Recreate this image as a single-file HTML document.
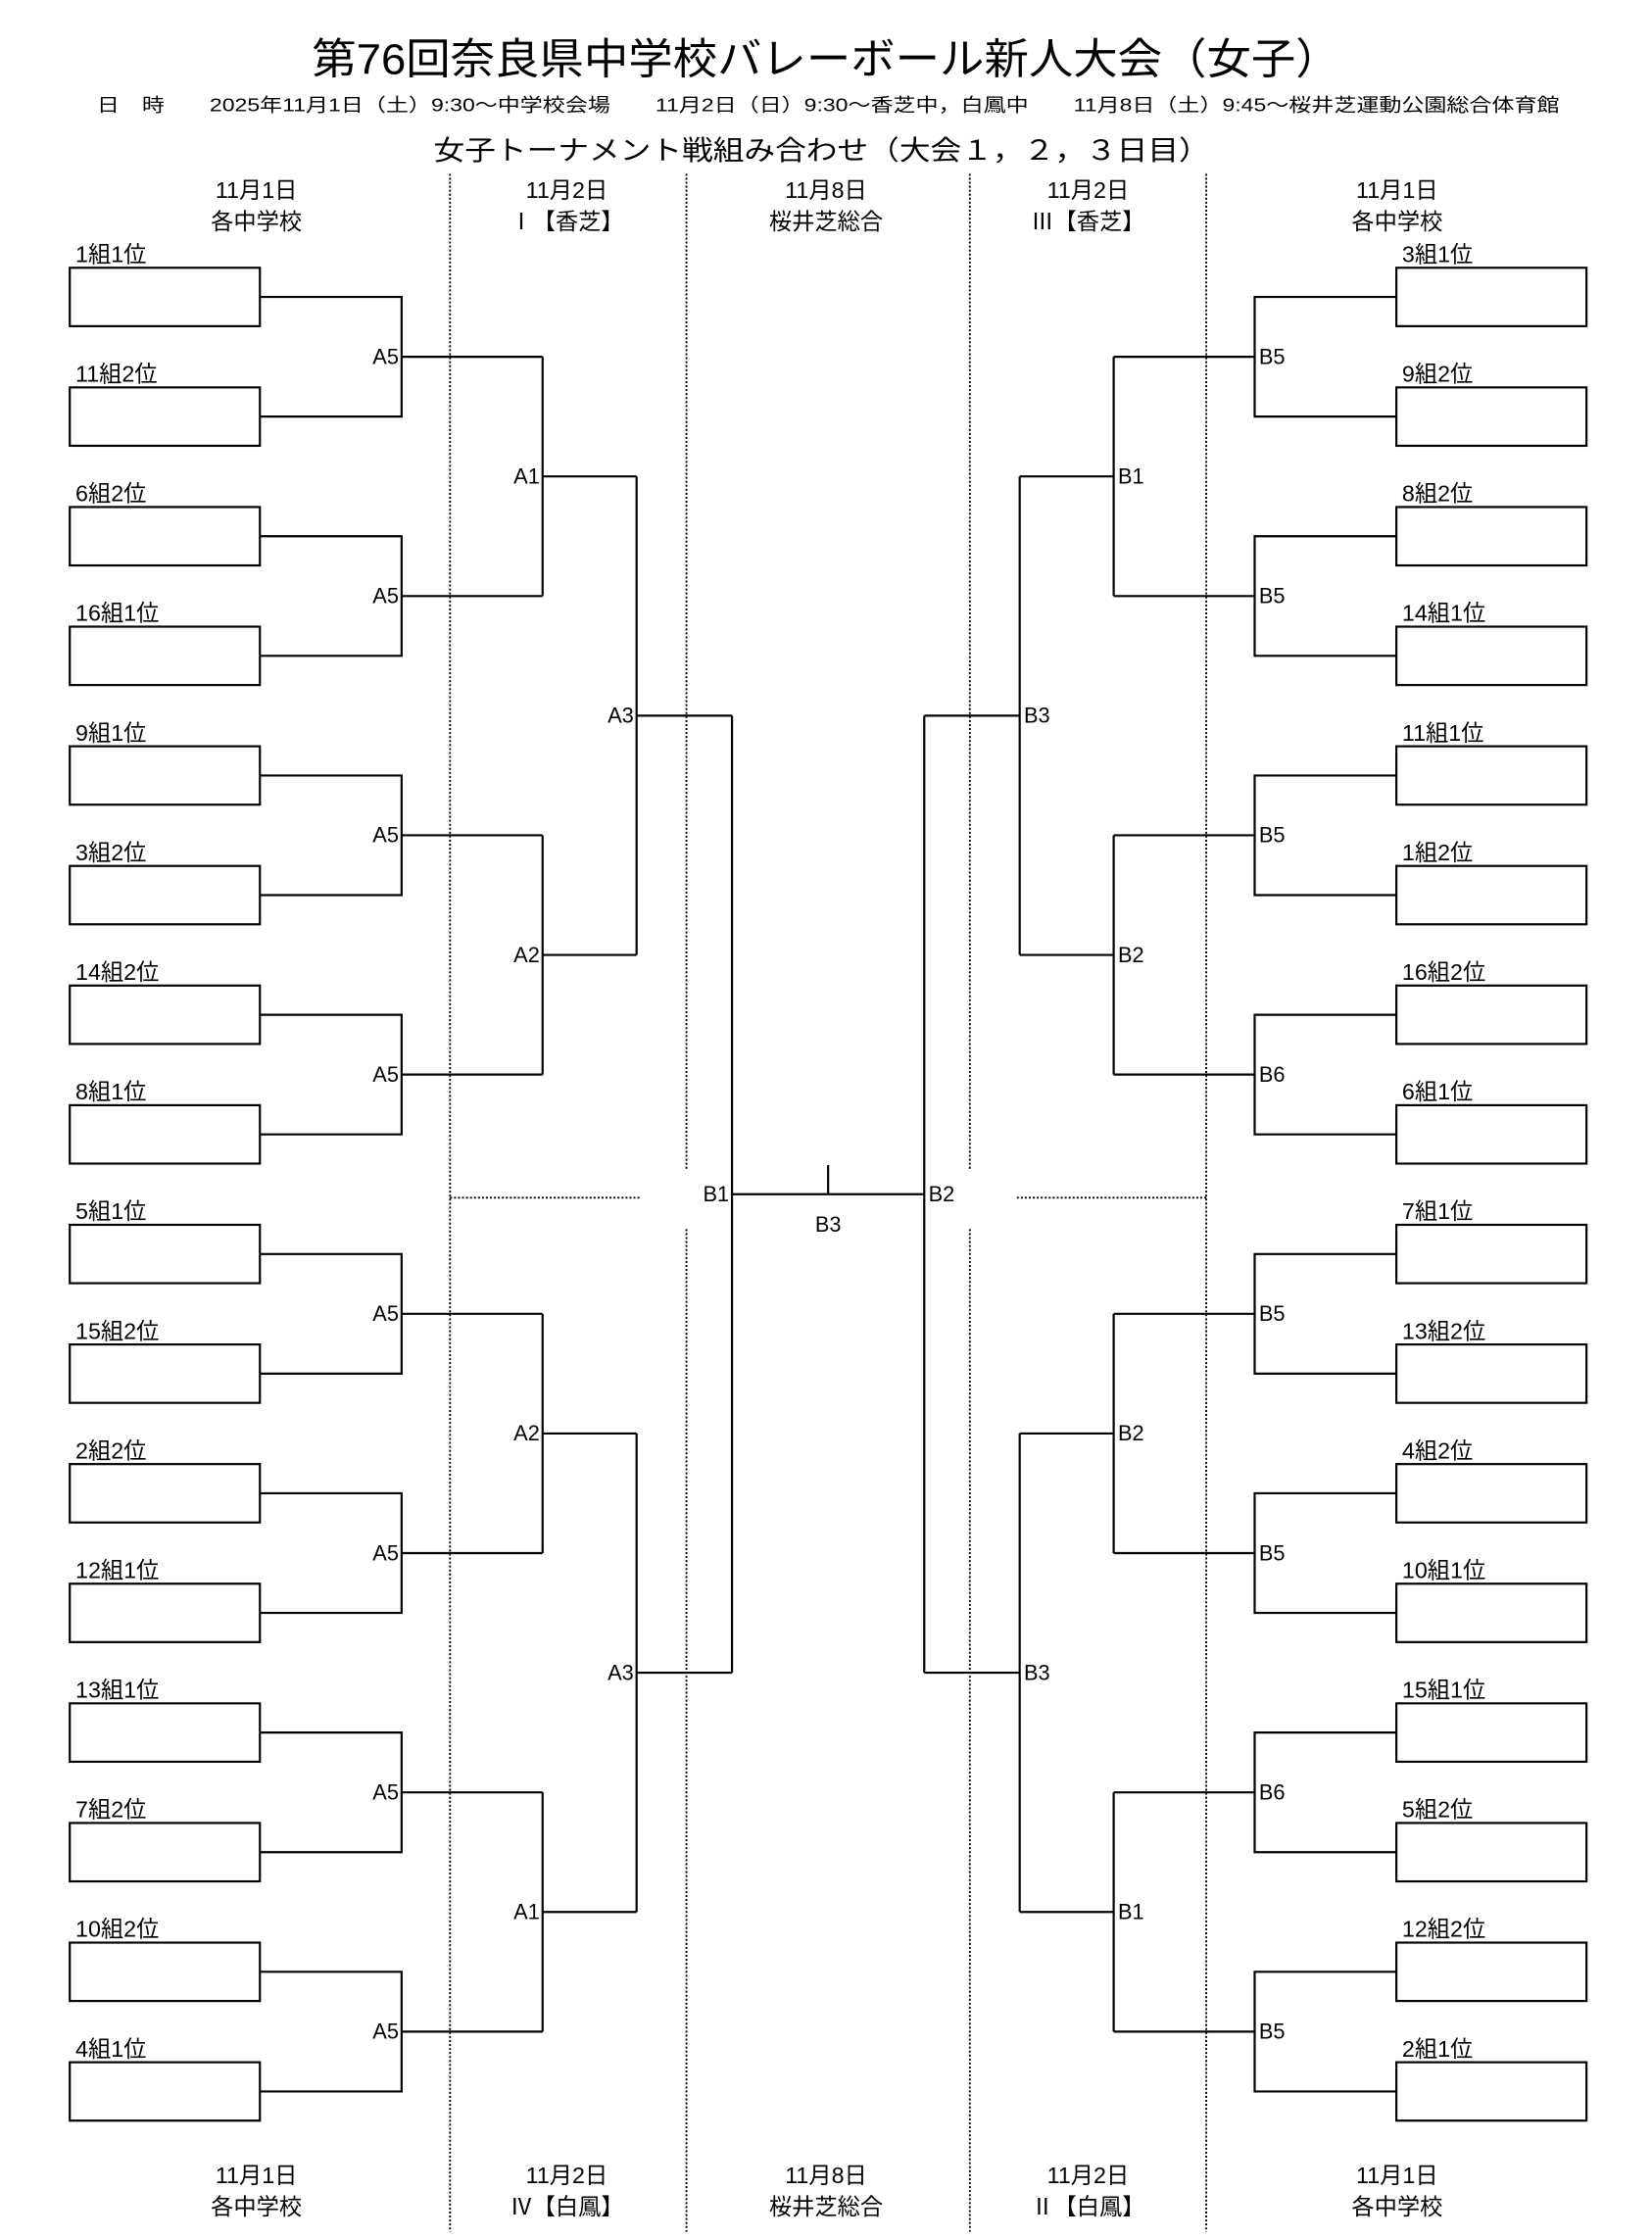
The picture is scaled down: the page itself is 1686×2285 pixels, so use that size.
<!DOCTYPE html>
<html><head><meta charset="utf-8"><style>
html,body{margin:0;padding:0;background:#fff}
svg{display:block}
text{font-family:"Liberation Sans","Noto Sans CJK JP",sans-serif;fill:#000}
</style></head><body>
<svg width="1686" height="2285" viewBox="0 0 1160 1572.1" xmlns="http://www.w3.org/2000/svg">
<text x="580" y="52" font-size="30" text-anchor="middle" textLength="722" lengthAdjust="spacingAndGlyphs">第76回奈良県中学校バレーボール新人大会（女子）</text>
<text x="68" y="78" font-size="13" textLength="1027" lengthAdjust="spacingAndGlyphs">日　時　　2025年11月1日（土）9:30～中学校会場　　11月2日（日）9:30～香芝中，白鳳中　　11月8日（土）9:45～桜井芝運動公園総合体育館</text>
<text x="577" y="112" font-size="19" text-anchor="middle" textLength="545" lengthAdjust="spacingAndGlyphs">女子トーナメント戦組み合わせ（大会１，２，３日目）</text>
<g font-size="16" text-anchor="middle">
<text x="180" y="139">11月1日</text><text x="180" y="161">各中学校</text>
<text x="398" y="139">11月2日</text><text x="398" y="161">Ⅰ【香芝】</text>
<text x="580" y="139">11月8日</text><text x="580" y="161">桜井芝総合</text>
<text x="764" y="139">11月2日</text><text x="764" y="161">Ⅲ【香芝】</text>
<text x="981" y="139">11月1日</text><text x="981" y="161">各中学校</text>
<text x="180" y="1533">11月1日</text><text x="180" y="1555">各中学校</text>
<text x="398" y="1533">11月2日</text><text x="398" y="1555">Ⅳ【白鳳】</text>
<text x="580" y="1533">11月8日</text><text x="580" y="1555">桜井芝総合</text>
<text x="764" y="1533">11月2日</text><text x="764" y="1555">Ⅱ【白鳳】</text>
<text x="981" y="1533">11月1日</text><text x="981" y="1555">各中学校</text>
</g>
<g stroke="#000" stroke-width="1.3" stroke-dasharray="1.4 1.4" fill="none">
<path d="M316 122V1567M847 122V1567M482 122V821M482 863V1567M681 122V821M681 863V1567M316 841H449M714 841H847"/>
</g>
<g id="L" stroke="#000" stroke-width="1.5" fill="none"></g>
<g id="T" font-size="15"></g>
<script>
var ns="http://www.w3.org/2000/svg",L=document.getElementById('L'),T=document.getElementById('T');
function p(d){var e=document.createElementNS(ns,'path');e.setAttribute('d',d);L.appendChild(e);}
function r(x,y,w,h){var e=document.createElementNS(ns,'rect');e.setAttribute('x',x);e.setAttribute('y',y);e.setAttribute('width',w);e.setAttribute('height',h);L.appendChild(e);}
function t(x,y,s,a,fs){var e=document.createElementNS(ns,'text');e.setAttribute('x',x);e.setAttribute('y',y);if(a)e.setAttribute('text-anchor',a);if(fs)e.setAttribute('font-size',fs);e.textContent=s;T.appendChild(e);}
var LN=["1組1位","11組2位","6組2位","16組1位","9組1位","3組2位","14組2位","8組1位","5組1位","15組2位","2組2位","12組1位","13組1位","7組2位","10組2位","4組1位"];
var RN=["3組1位","9組2位","8組2位","14組1位","11組1位","1組2位","16組2位","6組1位","7組1位","13組2位","4組2位","10組1位","15組1位","5組2位","12組2位","2組1位"];
var LR1=["A5","A5","A5","A5","A5","A5","A5","A5"],LR2=["A1","A2","A2","A1"],LR3=["A3","A3"];
var RR1=["B5","B5","B5","B6","B5","B5","B6","B5"],RR2=["B1","B2","B2","B1"],RR3=["B3","B3"];
var S=1163;
function side(names,r1,r2,r3,right){
 function X(x){return right?S-x:x;}
 var bx1=49,bx2=182.5;
 var cy=[];
 for(var i=0;i<16;i++){var y=188+84*i;cy.push(y+20.5);
  r(right?S-bx2:bx1,y,133.5,41);
  t(right?S-bx2+4:bx1+4,y-4,names[i],null,16);}
 function lab(x,y,s){ if(right) t(S-x+3,y+5,s); else t(x-2,y+5,s,'end'); }
 var c1=[];
 for(var i=0;i<8;i++){var a=cy[2*i],b=cy[2*i+1],m=(a+b)/2;c1.push(m);
  p('M'+X(bx2)+' '+a+'H'+X(282)+'V'+b+'H'+X(bx2)+'M'+X(282)+' '+m+'H'+X(381));lab(282,m,r1[i]);}
 var c2=[];
 for(var i=0;i<4;i++){var a=c1[2*i],b=c1[2*i+1],m=(a+b)/2;c2.push(m);
  p('M'+X(381)+' '+a+'V'+b+'M'+X(381)+' '+m+'H'+X(447));lab(381,m,r2[i]);}
 var c3=[];
 for(var i=0;i<2;i++){var a=c2[2*i],b=c2[2*i+1],m=(a+b)/2;c3.push(m);
  p('M'+X(447)+' '+a+'V'+b+'M'+X(447)+' '+m+'H'+X(514));lab(447,m,r3[i]);}
 p('M'+X(514)+' '+c3[0]+'V'+c3[1]);
 lab(514,838.5,right?"B2":"B1");
}
side(LN,LR1,LR2,LR3,false);
side(RN,RR1,RR2,RR3,true);
p('M514 838.5H649M581.5 838.5V818');
t(581.5,865,'B3','middle');
</script>
</svg>
</body></html>
